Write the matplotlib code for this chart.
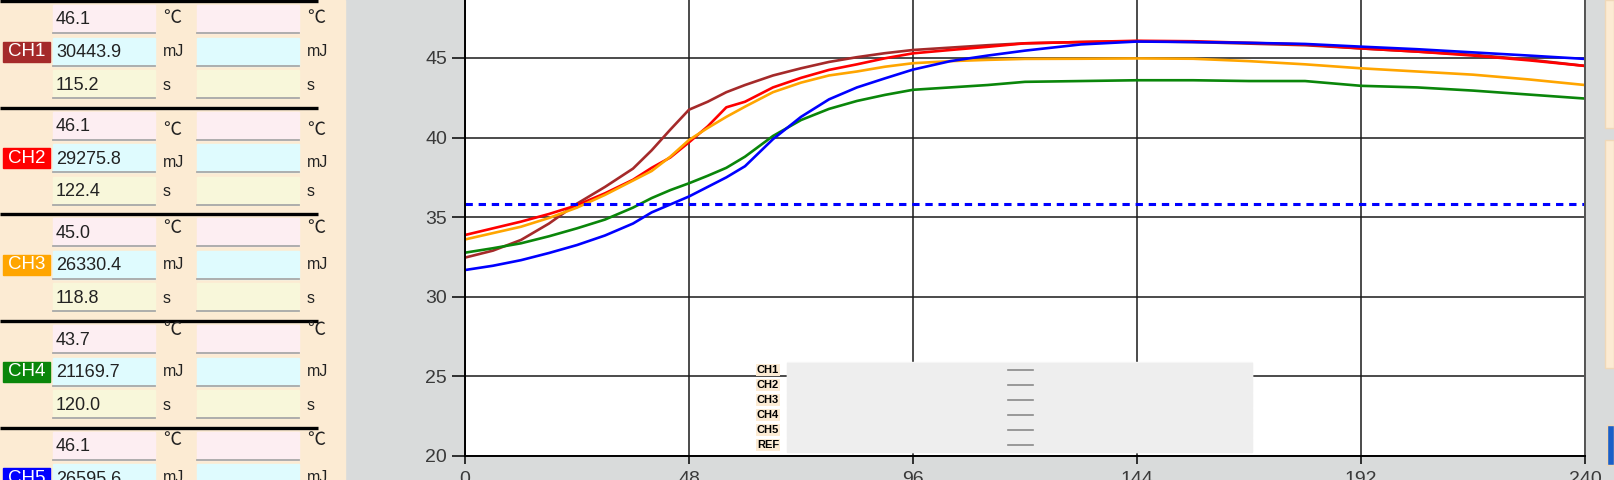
import matplotlib
matplotlib.use('Agg')
import matplotlib.pyplot as plt
from matplotlib.patches import Rectangle

plt.rcParams['font.family'] = ['Liberation Sans', 'DejaVu Sans']

# time axis (s) and temperature curves (degC)
time_s = [0, 6, 12, 18, 24, 30, 36, 40, 44, 48, 52, 56, 60, 66, 72, 78, 84, 90, 96,
          104, 112, 120, 132, 144, 156, 168, 180, 192, 204, 216, 228, 240]
ch1 = [32.46, 32.9, 33.57, 34.6, 35.85, 36.9, 38.05, 39.2, 40.5, 41.75, 42.25, 42.85, 43.3,
       43.9, 44.35, 44.75, 45.05, 45.3, 45.5, 45.65, 45.8, 45.92, 46.0, 46.05, 46.0,
       45.9, 45.8, 45.6, 45.4, 45.2, 44.9, 44.5]
ch2 = [33.88, 34.3, 34.72, 35.2, 35.75, 36.5, 37.35, 38.1, 38.75, 39.7, 40.7, 41.9, 42.25,
       43.15, 43.75, 44.25, 44.6, 44.98, 45.29, 45.5, 45.7, 45.92, 46.0, 46.08, 46.05,
       45.95, 45.85, 45.6, 45.4, 45.15, 44.85, 44.5]
ch3 = [33.6, 34.0, 34.4, 34.95, 35.6, 36.4, 37.3, 37.9, 38.8, 39.85, 40.6, 41.3, 41.94,
       42.85, 43.45, 43.9, 44.15, 44.45, 44.67, 44.8, 44.88, 44.94, 44.95, 44.97, 44.95,
       44.8, 44.6, 44.35, 44.15, 43.95, 43.65, 43.3]
ch4 = [32.77, 33.05, 33.36, 33.8, 34.3, 34.85, 35.6, 36.2, 36.7, 37.13, 37.6, 38.1, 38.8,
       40.1, 41.1, 41.8, 42.3, 42.68, 43.0, 43.15, 43.3, 43.5, 43.55, 43.6, 43.6,
       43.55, 43.55, 43.25, 43.15, 42.95, 42.7, 42.45]
ch5 = [31.68, 31.95, 32.3, 32.75, 33.25, 33.85, 34.6, 35.3, 35.8, 36.3, 36.9, 37.5, 38.2,
       39.9, 41.3, 42.4, 43.15, 43.72, 44.27, 44.8, 45.15, 45.46, 45.85, 46.03, 46.0,
       45.95, 45.88, 45.71, 45.55, 45.35, 45.15, 44.94]
ref_level = 35.8

channels = ['CH1', 'CH2', 'CH3', 'CH4', 'CH5']
ch_colors = ['#A52A2A', '#FF0000', '#FFA500', '#0A860A', '#0000FF']
legend_names = ['CH1', 'CH2', 'CH3', 'CH4', 'CH5', 'REF']

# side panel readouts: peak temp, energy, time
peak_temp = ['46.1', '46.1', '45.0', '43.7', '46.1']
energy_mj = ['30443.9', '29275.8', '26330.4', '21169.7', '26595.6']
time_val = ['115.2', '122.4', '118.8', '120.0', '']

x_ticks = [0, 48, 96, 144, 192, 240]
y_ticks = [20, 25, 30, 35, 40, 45]

W, H = 1614, 480
fig = plt.figure(figsize=(W / 100, H / 100), dpi=100)

# --- background UI layer (pixel coords, y down) ---
ui = fig.add_axes([0, 0, 1, 1], zorder=0)
ui.set_xlim(0, W)
ui.set_ylim(H, 0)
ui.axis('off')
ui.add_patch(Rectangle((0, 0), W, H, color='#D9DBDB'))
beige = '#FCEBD3'
ui.add_patch(Rectangle((0, 0), 345, H, color=beige))
ui.add_patch(Rectangle((1605, 0), 9, 128, facecolor=beige, edgecolor='#F0D8B8', lw=1))
ui.add_patch(Rectangle((1605, 140), 9, 228, facecolor=beige, edgecolor='#F0D8B8', lw=1))
ui.add_patch(Rectangle((1607, 425), 7, 40, facecolor='#1A5FC8', edgecolor='#F0D8B8', lw=1))

field_cols = ['#FDEEF2', '#DFFBFE', '#F8F7DA']
units = ['℃', 'mJ', 's']
deg_off = [18, 23, 15, 10, 13]
pitch = 106.7
for i in range(5):
    y0 = i * pitch
    ui.plot([0, 318], [y0 + 1, y0 + 1], color='black', lw=2.4, solid_capstyle='butt')
    rows = [peak_temp[i], energy_mj[i], time_val[i]]
    for r in range(3):
        top = y0 + 5 + r * 32.5
        for fx in (53, 197):
            ui.add_patch(Rectangle((fx, top), 102, 28, color=field_cols[r]))
            ui.plot([fx, fx + 102], [top + 28, top + 28], color='#A8A8A8', lw=1.3)
        ui.text(56, top + 15, rows[r], fontsize=13, color='#222222', va='center', ha='left')
        uy = y0 + (deg_off[i] if r == 0 else (51 + (5 if i == 1 else 0) if r == 1 else 85))
        fam = ['Noto Sans CJK JP', 'DejaVu Sans'] if r == 0 else ['Liberation Sans']
        fs = 13 if r == 0 else 11.5
        for ux in (163, 307):
            ui.text(ux, uy, units[r], fontsize=fs, family=fam, color='#222222',
                    va='center', ha='left')
    # channel tag
    ui.add_patch(Rectangle((3, y0 + 41.5), 47, 20, color=ch_colors[i]))
    ui.text(26.5, y0 + 51.5, channels[i], fontsize=13.5, color='white',
            va='center', ha='center')

# --- main chart ---
ax = fig.add_axes([465 / W, 24 / H, 1120 / W, 456 / H], zorder=1)
ax.set_facecolor('white')
for ser, col in zip([ch1, ch2, ch3, ch4, ch5], ch_colors):
    ax.plot(time_s, ser, color=col, lw=1.9)
ax.axhline(ref_level, color='#0000FF', lw=2.2, dashes=(2.4, 1.9))

ax.set_xlim(0, 240)
ax.set_ylim(20, 48.64)
ax.set_xticks(x_ticks)
ax.set_yticks(y_ticks)
ax.grid(True, color='#1A1A1A', lw=1.1)
ax.tick_params(axis='y', length=9.5, width=1.1, pad=3.5, labelsize=14, labelcolor='#3A3A3A')
ax.tick_params(axis='x', length=6, width=1.1, pad=4.5, labelsize=14, labelcolor='#3A3A3A')
ax.spines['top'].set_visible(False)
ax.spines['left'].set_linewidth(1.4)
ax.spines['bottom'].set_linewidth(1.4)
ax.spines['right'].set_color('#555555')
ax.spines['right'].set_linewidth(1.4)

# --- legend overlay ---
lg = fig.add_axes([0, 0, 1, 1], zorder=2)
lg.set_xlim(0, W)
lg.set_ylim(H, 0)
lg.axis('off')
lg.patch.set_alpha(0)
lg.add_patch(Rectangle((787, 362), 465, 90, color='#F8F8F8'))
for k, name in enumerate(legend_names):
    ry = 363 + k * 15
    lg.add_patch(Rectangle((787, ry), 465, 13.5, color='#EEEEEE'))
    lg.plot([1008, 1033], [ry + 7, ry + 7], color='#8A8A8A', lw=1.2)
    lg.text(768, ry + 7, name, fontsize=8, fontweight='bold', color='black',
            va='center', ha='center',
            bbox=dict(boxstyle='square,pad=0.1', fc=beige, ec='none'))

fig.savefig('out.png', dpi=100)
